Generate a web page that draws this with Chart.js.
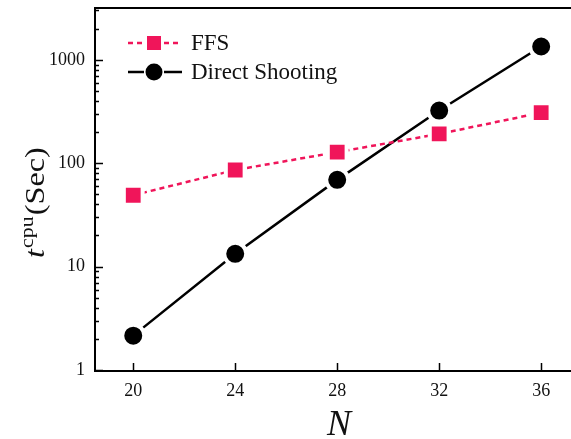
<!DOCTYPE html>
<html>
<head>
<meta charset="utf-8">
<script src="https://cdn.jsdelivr.net/npm/chart.js@4/dist/chart.umd.min.js"></script>
<style>
html,body{margin:0;padding:0;background:#fff;}
#wrap{width:571px;height:439px;position:relative;}
</style>
</head>
<body>
<div id="wrap"><canvas id="c" width="571" height="439"></canvas></div>
<script>
// ---- data ----
const categories = [20, 24, 28, 32, 36];
const ffsValues = [49, 86, 128, 192, 308];
const directValues = [2.15, 13.3, 69, 323, 1345];
const yTickValues = [1, 10, 100, 1000];
const xTickValues = [20, 24, 28, 32, 36];
const seriesNames = ['FFS', 'Direct Shooting'];

const PINK = '#f0155a';
const SERIF = '"Liberation Serif", "DejaVu Serif", serif';

const overlay = {
  id: 'overlay',
  afterDraw(chart) {
    const ctx = chart.ctx;
    const a = chart.chartArea;
    const xs = chart.scales.x, ys = chart.scales.y;
    ctx.save();
    // top border
    ctx.strokeStyle = '#000';
    ctx.lineWidth = 2;
    ctx.beginPath();
    ctx.moveTo(a.left - 1, a.top);
    ctx.lineTo(a.right + 2, a.top);
    ctx.stroke();
    // inward ticks
    ctx.lineWidth = 1.5;
    ctx.beginPath();
    xTickValues.forEach(v => {
      const px = Math.round(xs.getPixelForValue(v)) + 0.5;
      ctx.moveTo(px, a.bottom);
      ctx.lineTo(px, a.bottom - 8);
    });
    for (let e = 0; e <= 3; e++) {
      for (let m = 1; m <= 9; m++) {
        const v = m * Math.pow(10, e);
        if (v < ys.min || v > ys.max) continue;
        const py = Math.round(ys.getPixelForValue(v)) + 0.5;
        const len = (m === 1) ? 8 : 4;
        ctx.moveTo(a.left, py);
        ctx.lineTo(a.left + len, py);
      }
    }
    ctx.stroke();

    // tick labels
    ctx.fillStyle = '#111';
    ctx.font = '18px ' + SERIF;
    ctx.textAlign = 'center';
    ctx.textBaseline = 'middle';
    xTickValues.forEach(v => {
      ctx.fillText(String(v), xs.getPixelForValue(v), a.bottom + 20);
    });
    ctx.textAlign = 'right';
    yTickValues.forEach(v => {
      ctx.fillText(String(v), a.left - 10, ys.getPixelForValue(v));
    });

    // legend
    const ds = chart.data.datasets;
    const rows = [{y: 43, d: ds[0]}, {y: 72, d: ds[1]}];
    rows.forEach((r, i) => {
      ctx.strokeStyle = r.d.borderColor;
      ctx.lineWidth = 2.5;
      ctx.setLineDash(r.d.borderDash || []);
      ctx.beginPath();
      ctx.moveTo(128, r.y); ctx.lineTo(144, r.y);
      ctx.moveTo(164, r.y); ctx.lineTo(182, r.y);
      ctx.stroke();
      ctx.setLineDash([]);
      ctx.fillStyle = r.d.pointBackgroundColor;
      ctx.beginPath();
      if (i === 0) {
        ctx.rect(147, r.y - 7, 14, 14);
      } else {
        ctx.arc(154, r.y, 8.5, 0, Math.PI * 2);
      }
      ctx.fill();
      ctx.fillStyle = '#111';
      ctx.font = '23px ' + SERIF;
      ctx.textBaseline = 'middle';
      ctx.textAlign = 'left';
      ctx.fillText(r.d.label, 191, r.y + 1);
    });

    // x title
    ctx.fillStyle = '#111';
    ctx.font = 'italic 36px ' + SERIF;
    ctx.textAlign = 'center';
    ctx.textBaseline = 'alphabetic';
    ctx.fillText('N', 339, 435);

    // y title (rotated)
    ctx.translate(44, 258);
    ctx.rotate(-Math.PI / 2);
    ctx.scale(1.15, 1);
    ctx.textAlign = 'left';
    ctx.font = 'italic 28px ' + SERIF;
    ctx.fillText('t', 0, 0);
    let w = ctx.measureText('t').width + 1;
    ctx.font = '19px ' + SERIF;
    ctx.fillText('cpu', w, -11);
    w += ctx.measureText('cpu').width + 1;
    ctx.font = '28px ' + SERIF;
    ctx.fillText('(Sec)', w, 0);
    ctx.restore();
  }
};

new Chart(document.getElementById('c'), {
  type: 'line',
  data: {
    datasets: [
      {
        label: seriesNames[0],
        data: categories.map((x, i) => ({x: x, y: ffsValues[i]})),
        borderColor: PINK,
        backgroundColor: PINK,
        borderWidth: 2.5,
        borderDash: [5, 4],
        pointStyle: 'rect',
        pointRadius: 13.3,
        pointBackgroundColor: PINK,
        pointBorderColor: '#fff',
        pointBorderWidth: 4,
        tension: 0
      },
      {
        label: seriesNames[1],
        data: categories.map((x, i) => ({x: x, y: directValues[i]})),
        borderColor: '#000',
        backgroundColor: '#000',
        borderWidth: 2.5,
        pointStyle: 'circle',
        pointRadius: 11,
        pointBackgroundColor: '#000',
        pointBorderColor: '#fff',
        pointBorderWidth: 4,
        tension: 0
      }
    ]
  },
  options: {
    responsive: false,
    animation: false,
    devicePixelRatio: 1,
    layout: {autoPadding: false, padding: {top: 8, right: 0, left: 0, bottom: 0}},
    plugins: {legend: {display: false}, tooltip: {enabled: false}},
    scales: {
      x: {
        type: 'linear',
        min: 18.5,
        max: 37.17,
        afterBuildTicks: s => { s.ticks = xTickValues.map(v => ({value: v})); },
        afterFit: s => { s.height = 68; },
        grid: {display: true, drawOnChartArea: false, drawTicks: false},
        border: {display: true, color: '#000', width: 2},
        ticks: {display: false}
      },
      y: {
        type: 'logarithmic',
        min: 0.978,
        max: 3170,
        afterBuildTicks: s => { s.ticks = yTickValues.map(v => ({value: v})); },
        afterFit: s => { s.width = 95; },
        grid: {display: true, drawOnChartArea: false, drawTicks: false},
        border: {display: true, color: '#000', width: 2},
        ticks: {display: false}
      }
    }
  },
  plugins: [overlay]
});
</script>
</body>
</html>
